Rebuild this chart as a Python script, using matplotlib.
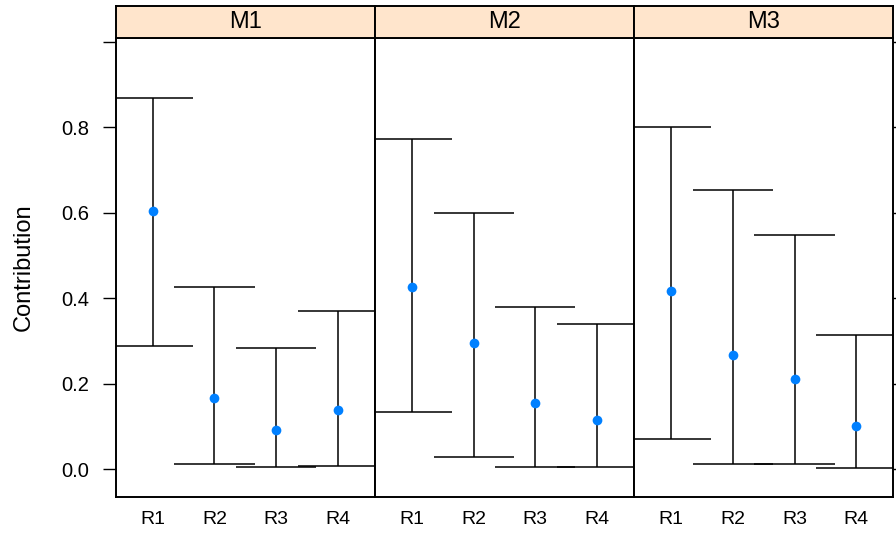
import numpy as np
import matplotlib
matplotlib.use('Agg')
import matplotlib.pyplot as plt

plt.rcParams['font.family'] = ['Liberation Sans', 'DejaVu Sans']

# contributions per model: point estimate with lower / upper bounds
models = ['M1', 'M2', 'M3']
regions = ['R1', 'R2', 'R3', 'R4']

m1_mean = [0.603, 0.167, 0.092, 0.139]
m1_low = [0.288, 0.011, 0.004, 0.008]
m1_up = [0.867, 0.425, 0.284, 0.369]

m2_mean = [0.425, 0.296, 0.155, 0.115]
m2_low = [0.134, 0.028, 0.004, 0.004]
m2_up = [0.772, 0.600, 0.380, 0.339]

m3_mean = [0.417, 0.266, 0.210, 0.102]
m3_low = [0.070, 0.012, 0.012, 0.003]
m3_up = [0.801, 0.652, 0.547, 0.314]

means = [m1_mean, m2_mean, m3_mean]
lows = [m1_low, m2_low, m3_low]
ups = [m1_up, m2_up, m3_up]

yticks = [0.0, 0.2, 0.4, 0.6, 0.8, 1.0]
ytick_labels = ['0.0', '0.2', '0.4', '0.6', '0.8', '']

W, H = 896, 533
fig = plt.figure(figsize=(W / 100, H / 100), dpi=100)

left_px, right_px = 115.7, 893.3
top_px, bot_px = 37.7, 497.0
strip_top_px = 5.7
pw = (right_px - left_px) / 3

x = np.arange(1, len(regions) + 1)
cap = 0.65

for i, m in enumerate(models):
    x0 = (left_px + i * pw) / W
    ax = fig.add_axes([x0, 1 - bot_px / H, pw / W, (bot_px - top_px) / H])
    sx = fig.add_axes([x0, 1 - top_px / H, pw / W, (top_px - strip_top_px) / H])

    ax.vlines(x, lows[i], ups[i], color='black', lw=1.1)
    ax.hlines(lows[i], x - cap, x + cap, color='black', lw=1.1)
    ax.hlines(ups[i], x - cap, x + cap, color='black', lw=1.1)
    ax.plot(x, means[i], 'o', color='#0080ff', ms=7, mec='none', zorder=3)

    ax.set_xlim(0.4, 4.6)
    ax.set_ylim(-0.065, 1.009)
    ax.set_xticks(x)
    ax.set_xticklabels(regions, fontsize=14)
    ax.tick_params(axis='x', length=0, pad=10)
    ax.set_yticks(yticks)
    if i == 0:
        ax.set_yticklabels(ytick_labels, fontsize=14.5)
        ax.tick_params(axis='y', direction='out', length=9.4, width=1.0, pad=9.5)
    elif i == 2:
        ax.yaxis.tick_right()
        ax.set_yticklabels([])
        ax.tick_params(axis='y', direction='out', length=9.4, width=1.0)
    else:
        ax.tick_params(axis='y', length=0, labelleft=False)
    for s in ax.spines.values():
        s.set_linewidth(1.4)

    sx.set_facecolor('#ffe5cc')
    sx.set_xticks([])
    sx.set_yticks([])
    for s in sx.spines.values():
        s.set_linewidth(1.4)
    sx.text(0.5, 0.5, m, ha='center', va='center', fontsize=17,
            transform=sx.transAxes)

fig.text(24 / W, 1 - 267.5 / H, 'Contribution', rotation=90,
         ha='center', va='center', fontsize=17)

fig.savefig('out.png', dpi=100)
